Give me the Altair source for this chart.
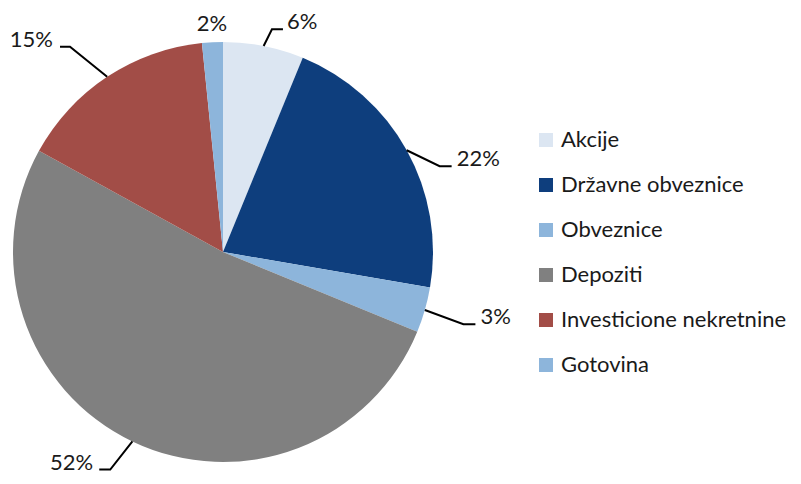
import math
import altair as alt
import pandas as pd

# ---- data ----
categories = ["Akcije", "Državne obveznice", "Obveznice", "Depoziti",
              "Investicione nekretnine", "Gotovina"]
values = [6.2, 21.5, 3.5, 51.8, 15.4, 1.6]
labels = ["6%", "22%", "3%", "52%", "15%", "2%"]
colors = ["#DCE6F2", "#0E3E7D", "#8DB5DB", "#808080", "#A24D47", "#8DB5DB"]

# ---- layout (annotation placement) ----
W, H = 785, 468
CX, CY = 215, 244           # pie centre inside the view (px)
R = 210                     # pie radius (px)
elbow_angle = [12.4, 68.4, 106.7, 207.4, 323.3, None]
elbow_radius = [228, 233, 251, 245, 256, None]
hlen = [11, 12, 12, 11, 10, 0]
gap = [4, 5, 5, 6, 7, 0]
side = ["left", "left", "left", "right", "right", "center"]
free_label_radius = 221

FONT = "Lato"

xs = alt.Scale(domain=[-CX, W - CX], zero=False, nice=False)
ys = alt.Scale(domain=[-(H - CY), CY], zero=False, nice=False)

total = sum(values)
pie = pd.DataFrame({"category": categories, "value": values,
                    "idx": list(range(len(values))), "cx": 0.0, "cy": 0.0})


def polar(a_deg, r):
    a = math.radians(a_deg)
    return r * math.sin(a), r * math.cos(a)


cum = 0.0
line_rows, text_rows = [], []
for i, v in enumerate(values):
    mid = (cum + v / 2) / total * 360.0
    cum += v
    if elbow_angle[i] is None:
        tx, ty = polar(mid, free_label_radius)
        text_rows.append({"label": labels[i], "x": tx, "y": ty, "side": side[i]})
        continue
    sx, sy = polar(mid, R)
    ex, ey = polar(elbow_angle[i], elbow_radius[i])
    d = 1 if side[i] == "left" else -1
    endx = ex + d * hlen[i]
    for k, (px, py) in enumerate([(sx, sy), (ex, ey), (endx, ey)]):
        line_rows.append({"label": labels[i], "pt": k, "x": px, "y": py})
    text_rows.append({"label": labels[i], "x": endx + d * gap[i], "y": ey,
                      "side": side[i]})

lines = pd.DataFrame(line_rows)
texts = pd.DataFrame(text_rows)

arc = alt.Chart(pie).mark_arc(outerRadius=R).encode(
    theta=alt.Theta("value:Q", stack=True),
    x=alt.X("cx:Q", scale=xs, axis=None),
    y=alt.Y("cy:Q", scale=ys, axis=None),
    order=alt.Order("idx:Q"),
    color=alt.Color(
        "category:N",
        scale=alt.Scale(domain=categories, range=colors),
        sort=categories,
        legend=alt.Legend(
            orient="none", legendX=527, legendY=121, title=None,
            symbolType="square", symbolSize=196, symbolStrokeWidth=0,
            labelFont=FONT, labelFontSize=22, labelColor="#1a1a1a",
            labelLimit=400, labelOffset=4, rowPadding=23, padding=0,
        ),
    ),
)

leaders = alt.Chart(lines).mark_line(color="black", strokeWidth=2).encode(
    x=alt.X("x:Q", scale=xs, axis=None),
    y=alt.Y("y:Q", scale=ys, axis=None),
    detail="label:N",
    order="pt:Q",
)


def text_layer(al):
    return alt.Chart(texts).transform_filter(
        alt.datum.side == al
    ).mark_text(align=al, baseline="alphabetic", font=FONT, fontSize=22,
                color="#1a1a1a").encode(
        x=alt.X("x:Q", scale=xs, axis=None),
        y=alt.Y("y:Q", scale=ys, axis=None),
        text="label:N",
    )


chart = alt.layer(
    arc, leaders, text_layer("left"), text_layer("right"), text_layer("center")
).properties(
    width=W, height=H, padding=0, autosize="none"
).configure_view(stroke=None)

chart.save("out.html", embed_options={"renderer": "svg", "actions": False})
